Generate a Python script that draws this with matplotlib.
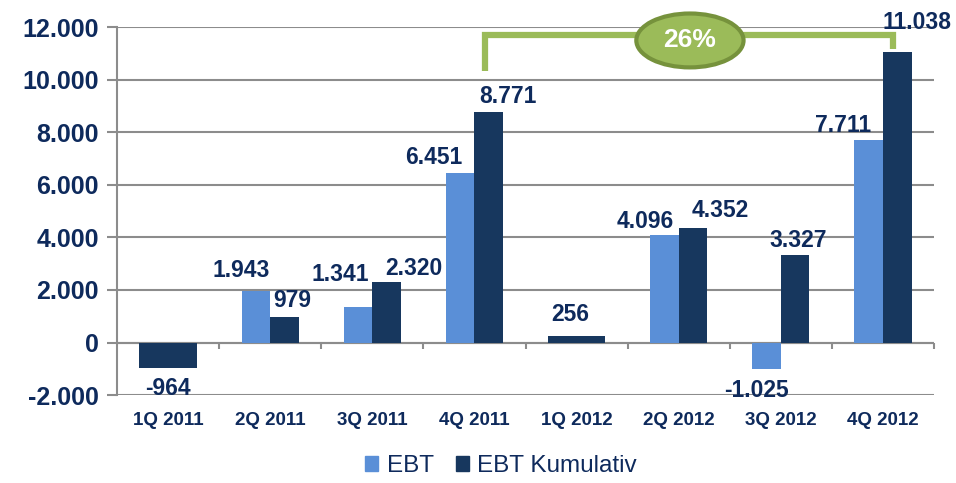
import matplotlib.pyplot as plt
import numpy as np
from matplotlib.patches import Ellipse, Patch

quarters = ["1Q 2011", "2Q 2011", "3Q 2011", "4Q 2011", "1Q 2012", "2Q 2012", "3Q 2012", "4Q 2012"]
ebt = [-964, 1943, 1341, 6451, 256, 4096, -1025, 7711]
ebt_cum = [-964, 979, 2320, 8771, 256, 4352, 3327, 11038]
yticks = [-2000, 0, 2000, 4000, 6000, 8000, 10000, 12000]
growth_label = "26%"

# label placement, pixels (dx, gap from bar end)
ebt_lab_off = [(0, 9), (-15, 14), (-18, 26), (-26, 9), (-6, 15), (-19, 7), (-10, 10), (-26, 8)]
cum_lab_off = [None, (8, 10), (27, 7), (19, 9), None, (27, 11), (3, 8), (20, 23)]

light = "#5A8FD7"
dark = "#17375E"
text_c = "#0E2A5C"
grid_c = "#8C8C8C"
green = "#9BBB59"
green_dark = "#76923C"

plt.rcParams["font.family"] = ["Liberation Sans", "DejaVu Sans"]
PT = 72 / 100


def fmt(v):
    return f"{v:,.0f}".replace(",", ".")


fig = plt.figure(figsize=(9.56, 4.83), dpi=100)
ax = fig.add_axes([0.1224, 0.182, 0.8546, 0.762])

x = np.arange(len(quarters))
w = 0.28
# first quarters: period value equals cumulative, drawn in the dark colour
ebt_colors = [dark if i % 4 == 0 else light for i in range(len(quarters))]
ax.bar(x - w / 2, ebt, w, color=ebt_colors, zorder=3)
ax.bar(x + w / 2, ebt_cum, w, color=dark, zorder=3)

ax.set_xlim(-0.5, len(quarters) - 0.5)
ax.set_ylim(-2000, 12000)
ax.set_yticks(yticks)
ax.set_yticklabels([fmt(v) for v in yticks])
ax.set_xticks(x)
ax.set_xticklabels(quarters)
ax.yaxis.grid(True, color=grid_c, linewidth=1.5, zorder=0)
ax.tick_params(axis="y", length=7, width=1.5, color=grid_c, labelsize=18,
               labelcolor=text_c, pad=6)
ax.tick_params(axis="x", length=0, labelsize=13.5, labelcolor=text_c, pad=12)
for lab in ax.get_yticklabels() + ax.get_xticklabels():
    lab.set_fontweight("bold")
for s in ["top", "right", "bottom"]:
    ax.spines[s].set_visible(False)
ax.spines["left"].set_color(grid_c)
ax.spines["left"].set_linewidth(1.5)

# zero line with category separators
ax.axhline(0, color=grid_c, linewidth=1.5, zorder=2)
ax.vlines(np.arange(0.5, len(quarters) + 0.5), -230, 0, color=grid_c, linewidth=1.5,
          zorder=2, clip_on=False)

lab_kw = dict(textcoords="offset points", fontsize=16.5, fontweight="bold",
              color=text_c, ha="center", zorder=7, annotation_clip=False)


def put(val, xpos, off):
    dx, gap = off
    if val >= 0:
        ax.annotate(fmt(val), (xpos, val), xytext=(dx * PT, gap * PT), va="baseline", **lab_kw)
    else:
        ax.annotate(fmt(val), (xpos, val), xytext=(dx * PT, -gap * PT), va="top", **lab_kw)


for i in range(len(quarters)):
    if cum_lab_off[i] is None:
        put(ebt[i], x[i], ebt_lab_off[i])
    else:
        put(ebt[i], x[i] - w / 2, ebt_lab_off[i])
        put(ebt_cum[i], x[i] + w / 2, cum_lab_off[i])

# growth bracket between 4Q 2011 and 4Q 2012 cumulative
bx0 = x[3] + w / 2 - 0.04
bx1 = x[7] + w / 2 - 0.04
ytop = 11680
ax.plot([bx0, bx0, bx1, bx1], [10310, ytop, ytop, 11150], color=green, linewidth=4.5,
        solid_joinstyle="miter", solid_capstyle="butt", zorder=4, clip_on=False)
ex = (bx0 + bx1) / 2 + 0.01
ell = Ellipse((ex, 11490), 1.05, 2050, facecolor=green,
              edgecolor=green_dark, linewidth=3, zorder=5, clip_on=False)
ax.add_patch(ell)
ax.text(ex, 11490, growth_label, color="white", fontsize=19,
        fontweight="bold", ha="center", va="center", zorder=6)

handles = [Patch(color=light, label="EBT"), Patch(color=dark, label="EBT Kumulativ")]
leg = fig.legend(handles=handles, loc="center", bbox_to_anchor=(0.524, 0.035), ncol=2,
                 frameon=False, fontsize=17.5, handlelength=0.55, handleheight=0.55,
                 handletextpad=0.35, columnspacing=0.9)
for t in leg.get_texts():
    t.set_color(text_c)

fig.savefig("out.png", dpi=100)
plt.close(fig)
